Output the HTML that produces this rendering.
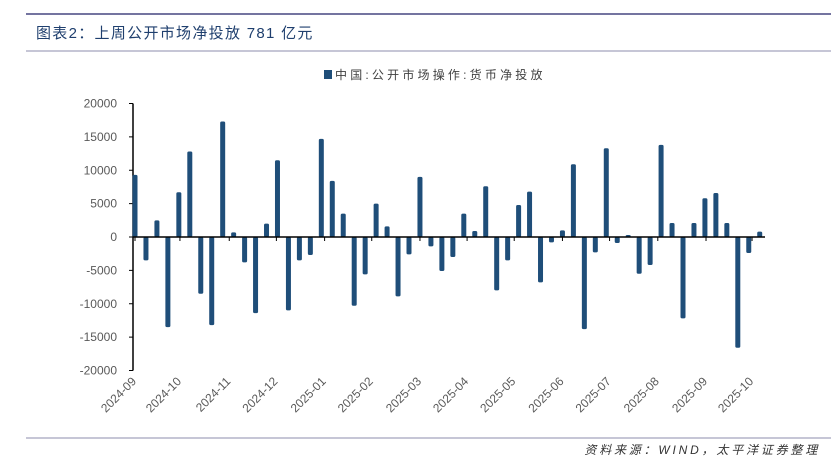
<!DOCTYPE html>
<html><head><meta charset="utf-8"><style>
body{margin:0;background:#fff;width:831px;height:464px;overflow:hidden;font-family:"Liberation Sans","Noto Sans CJK SC",sans-serif}
</style></head><body>
<svg width="831" height="464">
<line x1="26" y1="14" x2="831" y2="14" stroke="#7474a0" stroke-width="2"/>
<text x="36" y="38" font-size="15" letter-spacing="1.3" fill="#1f3f6e">图表2：上周公开市场净投放 781 亿元</text>
<line x1="26" y1="51" x2="831" y2="51" stroke="#b4b4c8" stroke-width="1.5"/>
<rect x="324" y="70" width="8" height="9" fill="#1f4e79"/>
<text x="335" y="79" font-size="12" letter-spacing="3.2" fill="#404040">中国:公开市场操作:货币净投放</text>
<g id="plot"></g>
<line x1="26" y1="438" x2="831" y2="438" stroke="#b4b4c8" stroke-width="1.5"/>
<text x="820" y="454" font-size="12" letter-spacing="2.8" fill="#333" text-anchor="end" font-style="italic">资料来源：WIND，太平洋证券整理</text>
</svg>
<script>
const values=[9300,-3500,2500,-13500,6700,12800,-8500,-13200,17300,700,-3800,-11400,2000,11500,-11000,-3500,-2700,14700,8400,3500,-10300,-5600,5000,1600,-8900,-2600,9000,-1400,-5100,-3000,3500,900,7600,-8000,-3500,4800,6800,-6800,-800,1000,10900,-13800,-2300,13300,-900,300,-5500,-4200,13800,2100,-12200,2100,5800,6600,2100,-16600,-2400,800];
const yTicks=[20000,15000,10000,5000,0,-5000,-10000,-15000,-20000];
const monthLabels=["2024-09","2024-10","2024-11","2024-12","2025-01","2025-02","2025-03","2025-04","2025-05","2025-06","2025-07","2025-08","2025-09","2025-10"];
const monthPos=[0,4.1,8.6,12.9,17.3,21.6,26,30.3,34.6,39,43.3,47.7,52.1,56.3];
const NS="http://www.w3.org/2000/svg";
const g=document.getElementById('plot');
const y=v=>237-v*(133.5/20000);
const x=i=>135+i*10.96;
function mk(t,a){const e=document.createElementNS(NS,t);for(const k in a)e.setAttribute(k,a[k]);g.appendChild(e);return e;}
const ax=mk('line',{x1:133,y1:y(20000),x2:133,y2:y(-20000),stroke:'#000','stroke-width':1.5});


yTicks.forEach(v=>{
 const t=mk('line',{x1:129,y1:y(v),x2:133,y2:y(v),stroke:'#000','stroke-width':1});
 
 
 const l=mk('text',{x:117,y:y(v)+4,'font-size':12,fill:'#595959','text-anchor':'end'});
 l.textContent=v;
 
 
});
values.forEach((v,i)=>{
 const top=Math.min(y(v),y(0)),h=Math.abs(y(v)-y(0));
 const b=mk('rect',{x:x(i)-2.5,y:top,width:5,height:Math.max(h,1),fill:'#1f4e79',rx:1.5});
 
 
});
const xa=mk('line',{x1:133,y1:y(0),x2:765,y2:y(0),stroke:'#000','stroke-width':1.5});


monthLabels.forEach((m,i)=>{
 const px=x(monthPos[i]);
 const t=mk('line',{x1:px,y1:y(0),x2:px,y2:y(0)+4,stroke:'#000','stroke-width':1});
 
 
 const l=mk('text',{x:px+2,y:382,'font-size':12,fill:'#595959','text-anchor':'end',transform:`rotate(-45 ${px+2} 382)`});
 l.textContent=m;
 
 
});
</script>
</body></html>
